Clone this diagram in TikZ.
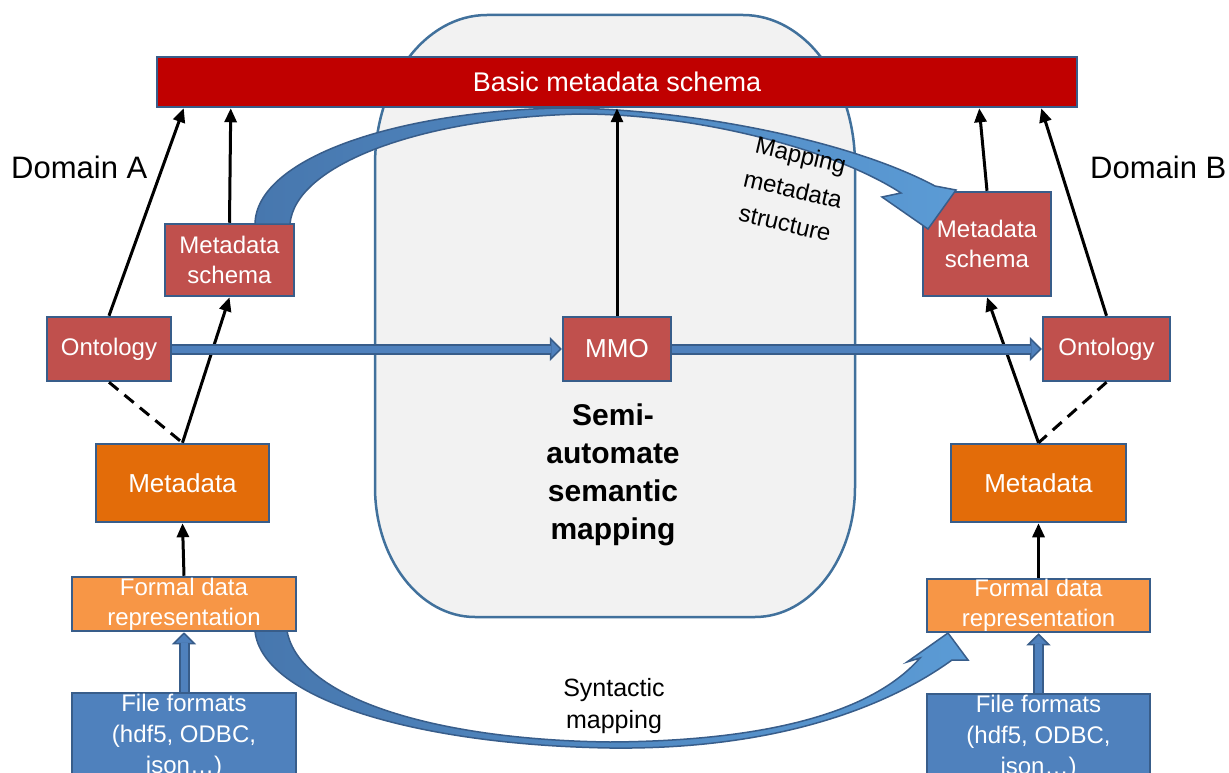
\documentclass[tikz,border=0pt]{standalone}
\usepackage{fontspec}
\setmainfont{Liberation Sans}
\usetikzlibrary{arrows.meta,calc}
\definecolor{bdark}{HTML}{385D8A}
\definecolor{bmid}{HTML}{4F81BD}
\definecolor{cbar}{HTML}{C00000}
\definecolor{cred}{HTML}{C0504D}
\definecolor{corange}{HTML}{E36C09}
\definecolor{clight}{HTML}{F79646}
\definecolor{cgray}{HTML}{F2F2F2}
\definecolor{cframe}{HTML}{41719C}
\definecolor{arrL}{HTML}{4777AE}
\definecolor{arrR}{HTML}{5B9BD5}
\newcommand{\fsz}[2]{\fontsize{#1pt}{#2pt}\selectfont}
\begin{document}
\begin{tikzpicture}[x=1pt,y=-1pt,
 box/.style={draw=bdark, line width=2.5pt, inner sep=0pt, text=white, align=center, font=\fsz{24}{30}},
 blk/.style={draw=black, line width=3pt, -{Triangle[length=14pt,width=12pt]}},
 dsh/.style={draw=black, line width=3pt, dash pattern=on 12pt off 8pt},
 bluearr/.style={draw=bdark, line width=11pt, -{Triangle[length=12pt,width=24pt,line width=1.5pt,fill=bmid]}, postaction={draw=bmid, line width=7pt, -, shorten >=11pt}},
 bigarr/.style={draw=bdark, line width=1.5pt, left color=arrL, right color=arrR},
 lbl/.style={align=center, text=black, inner sep=0pt}
]
\useasboundingbox (0,0) rectangle (1229,773);
\clip (0,0) rectangle (1229,773);
\fill[white] (0,0) rectangle (1229,773);

% central frame
\draw[draw=cframe, line width=2.5pt, fill=cgray]
 (375,165) .. controls (375,82) and (425,15) .. (487,15) -- (743,15)
 .. controls (805,15) and (855,82) .. (855,165) -- (855,487)
 .. controls (855,559) and (810,617) .. (755,617) -- (475,617)
 .. controls (420,617) and (375,559) .. (375,487) -- cycle;

% syntactic mapping arrow
\path[bigarr] (255,631) .. controls (262,700) and (420,745) .. (610,748)
 .. controls (780,750) and (890,705) .. (952,660)
 -- (968,660) -- (948,633) -- (907,662) -- (920,658)
 .. controls (870,715) and (760,741) .. (610,742)
 .. controls (440,740) and (300,700) .. (287,631) -- cycle;

% nodes
\node[box, fill=cbar, minimum width=920pt, minimum height=50pt, font=\fsz{27}{30}] (bar) at (617,82) {Basic metadata schema};
\node[box, fill=cred, minimum width=129pt, minimum height=72pt] (msA) at (229.5,260) {Metadata\\schema};
\node[box, fill=cred, minimum width=128pt, minimum height=104pt] (msB) at (987,244) {Metadata\\schema};
\node[box, fill=cred, minimum width=124pt, minimum height=64pt] (ontA) at (109,349) {Ontology};
\node[box, fill=cred, minimum width=108pt, minimum height=64pt, font=\fsz{26}{30}] (mmo) at (617,349) {MMO};
\node[box, fill=cred, minimum width=127pt, minimum height=64pt] (ontB) at (1106.5,349) {Ontology};
\node[box, fill=corange, minimum width=173pt, minimum height=78pt, font=\fsz{26}{30}] (mdA) at (182.5,483) {Metadata};
\node[box, fill=corange, minimum width=175pt, minimum height=78pt, font=\fsz{26}{30}] (mdB) at (1038.5,483) {Metadata};
\node[box, fill=clight, minimum width=224pt, minimum height=54pt] (fdA) at (184,604) {Formal data\\representation};
\node[box, fill=clight, minimum width=223pt, minimum height=53pt] (fdB) at (1038.5,605.5) {Formal data\\representation};
\node[box, fill=bmid, minimum width=224pt, minimum height=86pt, font=\fsz{24}{31}] (ffA) at (184,736) {File formats\\(hdf5, ODBC,\\json\dots)};
\node[box, fill=bmid, minimum width=223pt, minimum height=86pt, font=\fsz{24}{31}] (ffB) at (1038.5,737) {File formats\\(hdf5, ODBC,\\json\dots)};

% mapping metadata structure arrow (over the boxes)
\path[bigarr] (255,224) .. controls (256,160) and (390,112) .. (560,108)
 .. controls (680,108) and (845,138) .. (935,186)
 -- (956,190) -- (928,229) -- (882,197) -- (901,193)
 .. controls (835,150) and (700,114) .. (580,114)
 .. controls (420,118) and (295,165) .. (290,224) -- cycle;

% labels
\node[lbl, anchor=west, font=\fsz{31}{34}] (domA) at (11,167) {Domain A};
\node[lbl, anchor=west, font=\fsz{31}{34}] (domB) at (1090,167) {Domain B};
\node[lbl, font=\bfseries\fsz{30}{38}] (semi) at (613,475) {Semi-\\automate\\semantic\\mapping};
\node[lbl, font=\fsz{24}{35}, rotate=-13] (mms) at (793,189) {Mapping\\metadata\\structure};
\node[lbl, font=\fsz{25}{32}] (syn) at (614,706) {Syntactic\\mapping};

% black connectors
\draw[blk] (ontA.north) -- ($(bar.south west)+(28,0)$);
\draw[blk] (msA.north) -- ($(bar.south west)+(75,0)$);
\draw[blk] (mdA.north) -- (msA.south);
\draw[dsh] (ontA.south) -- (mdA.north);
\draw[blk] (fdA.north) -- (mdA.south);
\draw[blk] (mmo.north) -- (mmo.north |- bar.south);
\draw[blk] (msB.north) -- ($(bar.south east)+(-99,0)$);
\draw[blk] (ontB.north) -- ($(bar.south east)+(-37,0)$);
\draw[blk] (mdB.north) -- (msB.south);
\draw[dsh] (ontB.south) -- (mdB.north);
\draw[blk] (fdB.north) -- (mdB.south);

% blue connectors
\draw[bluearr] (ontA.east) -- (mmo.west);
\draw[bluearr] (mmo.east) -- (ontB.west);
\draw[bluearr] (ffA.north) -- (fdA.south);
\draw[bluearr] (ffB.north) -- (fdB.south);
\end{tikzpicture}
\end{document}
